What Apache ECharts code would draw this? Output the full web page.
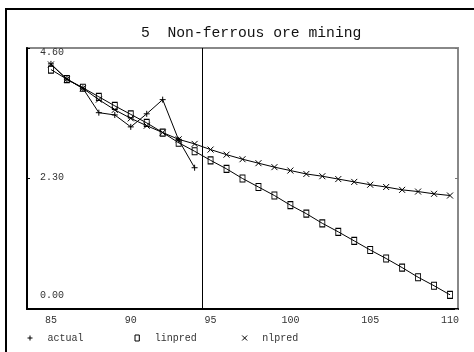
<!DOCTYPE html>
<html>
<head>
<meta charset="utf-8">
<script src="https://cdn.jsdelivr.net/npm/echarts@6/dist/echarts.min.js"></script>
<style>
  html, body { margin: 0; padding: 0; background: #fff; }
  #chart { width: 474px; height: 352px; }
</style>
</head>
<body>
<div id="chart"></div>
<script>
// Years on the horizontal axis (84 is an empty leading slot)
const years = ['84','85','86','87','88','89','90','91','92','93','94','95','96','97','98',
               '99','100','101','102','103','104','105','106','107','108','109','110'];

// Observed values, 1985-1994
const actual = [null, 4.32, 4.05, 3.89, 3.46, 3.42, 3.21, 3.44, 3.69, 2.98, 2.49];

// Linear trend prediction, 1985-2010
const linpred = [null, 4.22, 4.05, 3.90, 3.74, 3.58, 3.43, 3.28, 3.11, 2.93, 2.78,
                 2.62, 2.47, 2.30, 2.15, 2.00, 1.83, 1.68, 1.51, 1.36, 1.20,
                 1.04, 0.89, 0.73, 0.56, 0.41, 0.25];

// Non-linear trend prediction, 1985-2010
const nlpred = [null, 4.31, 4.05, 3.89, 3.69, 3.51, 3.36, 3.23, 3.11, 2.99, 2.91,
                2.81, 2.72, 2.64, 2.57, 2.50, 2.44, 2.38, 2.34, 2.29, 2.24,
                2.19, 2.15, 2.10, 2.07, 2.03, 2.00];

// Y tick labels and the year where the forecast starts
const yTicks = ['0.00', '2.30', '4.60'];
const forecastStart = 95;

const MONO = '"Liberation Mono", "DejaVu Sans Mono", monospace';
const PLUS = 'path://M5,0 L5,10 M0,5 L10,5';
const BOX = 'path://M0,0 L5,0 L5,7 L0,7 Z';
const CROSS = 'path://M0,0 L10,10 M10,0 L0,10';

const isMajor = (idx, val) => Number(val) % 5 === 0;

function lineSeries(name, data, symbol, size) {
  return {
    name: name,
    type: 'line',
    data: data,
    symbol: symbol,
    symbolSize: size,
    showAllSymbol: true,
    connectNulls: false,
    lineStyle: { color: '#000', width: 1 },
    itemStyle: { color: 'transparent', borderColor: '#000', borderWidth: 1 },
    emphasis: { disabled: true },
    animation: false
  };
}

const chart = echarts.init(document.getElementById('chart'), null, { renderer: 'canvas' });
chart.setOption({
  animation: false,
  backgroundColor: '#fff',
  title: {
    text: '5  Non-ferrous ore mining',
    left: 136,
    top: 21,
    textStyle: { fontFamily: MONO, fontSize: 14.7, fontWeight: 'normal', color: '#111' }
  },
  // Page frame: left and top edges
  graphic: [{
    type: 'polyline',
    shape: { points: [[6, 360], [6, 9], [480, 9]] },
    style: { fill: 'none', stroke: '#000', lineWidth: 2 },
    silent: true
  }],
  legend: {
    left: 22,
    top: 328,
    itemWidth: 5,
    itemHeight: 6,
    itemGap: 3,
    selectedMode: false,
    data: [
      { name: 'actual', icon: PLUS },
      { name: 'linpred', icon: BOX },
      { name: 'nlpred', icon: CROSS }
    ],
    itemStyle: { borderWidth: 1, borderColor: '#000', color: 'transparent' },
    // fixed-width columns in the monospace font
    formatter: (name) => name.padEnd(14, ' '),
    textStyle: { fontFamily: MONO, fontSize: 10, color: '#333', padding: [0, 0, 0, 10] }
  },
  grid: {
    left: 27, top: 48, width: 431, height: 261,
    show: true, borderColor: '#888', borderWidth: 2, backgroundColor: 'transparent'
  },
  xAxis: [{
    type: 'category',
    data: years,
    boundaryGap: true,
    axisLine: { lineStyle: { color: '#000', width: 2 } },
    axisTick: { inside: true, length: 7, interval: isMajor, lineStyle: { color: '#000', width: 1 } },
    axisLabel: { interval: isMajor, margin: 6, fontFamily: MONO, fontSize: 10, color: '#333' },
    splitLine: { show: false }
  }, {
    type: 'category',
    data: years,
    boundaryGap: true,
    position: 'bottom',
    axisLine: { show: false },
    axisTick: { inside: true, length: 3, interval: 0, lineStyle: { color: '#000', width: 1 } },
    axisLabel: { show: false },
    splitLine: { show: false }
  }, {
    type: 'value',
    min: 84, max: 111,
    show: false
  }],
  yAxis: [{
    type: 'value',
    min: 0, max: 4.6, interval: 2.3,
    axisLine: { show: true, lineStyle: { color: '#000', width: 2 } },
    axisTick: { show: true, inside: true, length: 3, lineStyle: { color: '#000' } },
    splitLine: { show: false },
    axisLabel: {
      inside: true,
      margin: 13,
      fontFamily: MONO,
      fontSize: 10,
      color: '#333',
      formatter: (v, i) => ['{lo|', '{mid|', '{hi|'][i] + yTicks[i] + '}',
      rich: {
        lo: { fontFamily: MONO, fontSize: 10, color: '#333', padding: [0, 0, 28, 0] },
        mid: { fontFamily: MONO, fontSize: 10, color: '#333', padding: [0, 0, 3, 0] },
        hi: { fontFamily: MONO, fontSize: 10, color: '#333', padding: [9, 0, 0, 0] }
      }
    }
  }, {
    type: 'value',
    position: 'right',
    min: 0, max: 4.6, interval: 2.3,
    axisLine: { show: false },
    axisTick: { show: true, inside: true, length: 3, lineStyle: { color: '#777' } },
    axisLabel: { show: false },
    splitLine: { show: false }
  }],
  series: [
    lineSeries('actual', actual, PLUS, 6),
    lineSeries('linpred', linpred, BOX, [5, 7]),
    lineSeries('nlpred', nlpred, CROSS, 6),
    {
      name: 'forecast start',
      type: 'line',
      xAxisIndex: 2,
      yAxisIndex: 0,
      data: [],
      silent: true,
      markLine: {
        silent: true,
        symbol: 'none',
        label: { show: false },
        lineStyle: { color: '#000', width: 1, type: 'solid' },
        data: [{ xAxis: forecastStart }]
      }
    }
  ]
});
</script>
</body>
</html>
